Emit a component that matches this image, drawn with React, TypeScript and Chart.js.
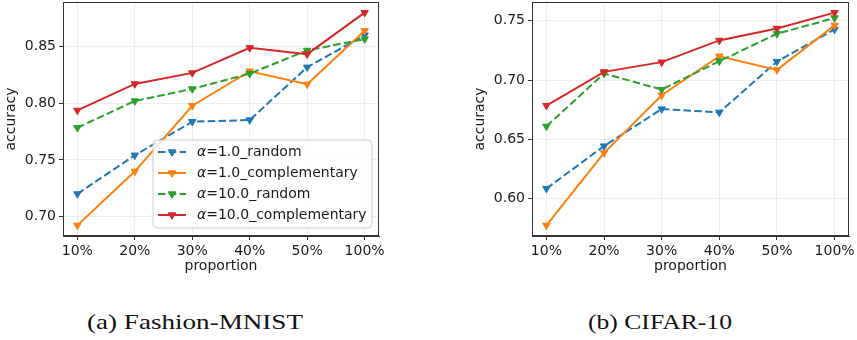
import React, { useEffect, useRef } from 'react';
import { Chart, registerables } from 'chart.js';

Chart.register(...registerables);

// ---------------- data ----------------
const categories = ['10%', '20%', '30%', '40%', '50%', '100%'];
const seriesNames = ['1.0_random', '1.0_complementary', '10.0_random', '10.0_complementary'];
const seriesColors = ['#1f77b4', '#ff7f0e', '#2ca02c', '#d62728'];
const seriesDashed = [true, false, true, false];

// (a) Fashion-MNIST
const fashionA1Random = [0.7201, 0.7542, 0.7837, 0.7852, 0.8317, 0.8600];
const fashionA1Compl = [0.6924, 0.7400, 0.7978, 0.8282, 0.8167, 0.8638];
const fashionA10Random = [0.7784, 0.8020, 0.8126, 0.8261, 0.8465, 0.8565];
const fashionA10Compl = [0.7937, 0.8170, 0.8267, 0.8488, 0.8432, 0.8798];
const fashionYTicks = [0.70, 0.75, 0.80, 0.85];

// (b) CIFAR-10
const cifarA1Random = [0.6086, 0.6444, 0.6756, 0.6728, 0.7156, 0.7427];
const cifarA1Compl = [0.5776, 0.6387, 0.6872, 0.7201, 0.7086, 0.7461];
const cifarA10Random = [0.6610, 0.7055, 0.6920, 0.7159, 0.7390, 0.7523];
const cifarA10Compl = [0.6785, 0.7069, 0.7151, 0.7334, 0.7435, 0.7568];
const cifarYTicks = [0.60, 0.65, 0.70, 0.75];

const captionA = '(a) Fashion-MNIST';
const captionB = '(b) CIFAR-10';
const xTitle = 'proportion';
const yTitle = 'accuracy';

// matplotlib-like 5% margins
function paddedRange(series: number[][]) {
  const all = series.flat();
  const lo = Math.min(...all);
  const hi = Math.max(...all);
  const m = (hi - lo) * 0.05;
  return [lo - m, hi + m];
}

const TEXT = '#1a1a1a';
const SPINE = '#333333';
const GRID = '#ececec';
const FONT = 'DejaVu Sans';

function triangleDown(ctx: CanvasRenderingContext2D, cx: number, cy: number, r: number) {
  const s = Math.sin(Math.PI / 3) * r;
  const c = Math.cos(Math.PI / 3) * r;
  ctx.beginPath();
  ctx.moveTo(cx, cy + r);
  ctx.lineTo(cx - s, cy - c);
  ctx.lineTo(cx + s, cy - c);
  ctx.closePath();
}

const framePlugin = {
  id: 'frameAndLegend',
  afterDatasetsDraw(chart: any, _args: any, opts: any) {
    const ctx: CanvasRenderingContext2D = chart.ctx;
    const { left, right, top, bottom } = chart.chartArea;
    ctx.save();
    ctx.strokeStyle = SPINE;
    ctx.lineWidth = 1;
    ctx.strokeRect(Math.round(left) + 0.5, Math.round(top) + 0.5, Math.round(right - left) - 1, Math.round(bottom - top) - 1);
    ctx.restore();

    if (!opts || !opts.showLegend) return;
    const w = 219;
    const h = 88;
    const x0 = right - 7 - w;
    const y0 = bottom - 8 - h;
    ctx.save();
    ctx.beginPath();
    const r = 4;
    ctx.moveTo(x0 + r, y0);
    ctx.arcTo(x0 + w, y0, x0 + w, y0 + h, r);
    ctx.arcTo(x0 + w, y0 + h, x0, y0 + h, r);
    ctx.arcTo(x0, y0 + h, x0, y0, r);
    ctx.arcTo(x0, y0, x0 + w, y0, r);
    ctx.closePath();
    ctx.fillStyle = 'rgba(255,255,255,0.8)';
    ctx.fill();
    ctx.strokeStyle = '#cccccc';
    ctx.lineWidth = 1;
    ctx.stroke();

    chart.data.datasets.forEach((ds: any, i: number) => {
      const yy = y0 + 12 + i * 21;
      ctx.beginPath();
      ctx.setLineDash(ds.borderDash || []);
      ctx.strokeStyle = ds.borderColor;
      ctx.lineWidth = ds.borderWidth;
      ctx.moveTo(x0 + 5, yy);
      ctx.lineTo(x0 + 33, yy);
      ctx.stroke();
      ctx.setLineDash([]);
      triangleDown(ctx, x0 + 19, yy, 4.3);
      ctx.fillStyle = ds.borderColor;
      ctx.fill();
      ctx.lineWidth = 1;
      ctx.stroke();

      ctx.fillStyle = TEXT;
      ctx.textBaseline = 'middle';
      ctx.textAlign = 'left';
      ctx.font = `italic 14px "${FONT}"`;
      const tx = x0 + 44;
      ctx.fillText('α', tx, yy);
      const aw = ctx.measureText('α').width;
      ctx.font = `14px "${FONT}"`;
      ctx.fillText('=' + ds.label, tx + aw, yy);
    });
    ctx.restore();
  },
};

interface PanelProps {
  series: number[][];
  yTicks: number[];
  showLegend: boolean;
  left: number;
  width: number;
  padLeft: number;
  padRight: number;
}

function zeroPad(axis: any) {
  axis.paddingTop = 0;
  axis.paddingBottom = 0;
  axis.paddingLeft = 0;
  axis.paddingRight = 0;
}

function Panel({ series, yTicks, showLegend, left, width, padLeft, padRight }: PanelProps) {
  const ref = useRef<HTMLCanvasElement | null>(null);
  const height = 280;

  useEffect(() => {
    if (!ref.current) return;
    const [yMin, yMax] = paddedRange(series);
    const datasets = series.map((vals, i) => ({
      label: seriesNames[i],
      data: vals.map((v, j) => ({ x: j, y: v })),
      borderColor: seriesColors[i],
      backgroundColor: seriesColors[i],
      pointBackgroundColor: seriesColors[i],
      pointBorderColor: seriesColors[i],
      borderWidth: 2,
      borderDash: seriesDashed[i] ? [7.5, 3.3] : [],
      pointStyle: 'triangle',
      pointRotation: 180,
      pointRadius: 4.3,
      pointBorderWidth: 1,
      fill: false,
      tension: 0,
      order: series.length - i,
    }));

    const chart = new Chart(ref.current, {
      type: 'line',
      data: { datasets },
      plugins: [framePlugin],
      options: {
        animation: false,
        responsive: false,
        devicePixelRatio: 1,
        layout: { autoPadding: false, padding: { left: padLeft, right: padRight, top: 2, bottom: 0 } },
        plugins: {
          legend: { display: false },
          tooltip: { enabled: false },
          frameAndLegend: { showLegend },
        } as any,
        scales: {
          x: {
            type: 'linear',
            min: -0.25,
            max: categories.length - 1 + 0.25,
            afterBuildTicks: (axis: any) => {
              axis.ticks = categories.map((_, i) => ({ value: i }));
            },
            afterFit: (axis: any) => {
              axis.height = 44;
              zeroPad(axis);
            },
            ticks: {
              autoSkip: false,
              maxRotation: 0,
              padding: 3,
              color: TEXT,
              font: { family: FONT, size: 14 },
              callback: (v: any) => categories[Math.round(Number(v))] ?? '',
            },
            grid: { color: GRID, lineWidth: 1, tickLength: 4, tickColor: SPINE, tickWidth: 1 },
            border: { display: true, color: SPINE, width: 1 },
            title: {
              display: true,
              text: xTitle,
              color: TEXT,
              font: { family: FONT, size: 14 },
              padding: { top: 0, bottom: 5 },
            },
          },
          y: {
            type: 'linear',
            min: yMin,
            max: yMax,
            afterBuildTicks: (axis: any) => {
              axis.ticks = yTicks.map((v) => ({ value: v }));
            },
            afterFit: (axis: any) => {
              axis.width = 63;
              zeroPad(axis);
            },
            ticks: {
              padding: 3,
              color: TEXT,
              font: { family: FONT, size: 14 },
              callback: (v: any) => Number(v).toFixed(2),
            },
            grid: { color: GRID, lineWidth: 1, tickLength: 4, tickColor: SPINE, tickWidth: 1 },
            border: { display: true, color: SPINE, width: 1 },
            title: {
              display: true,
              text: yTitle,
              color: TEXT,
              font: { family: FONT, size: 14 },
              padding: { top: 3, bottom: 0 },
            },
          },
        },
      } as any,
    });
    return () => chart.destroy();
  }, []);

  return (
    <canvas
      ref={ref}
      width={width}
      height={height}
      style={{ position: 'absolute', left, top: 0, width, height }}
    />
  );
}

function Caption({ text, center, scale }: { text: string; center: number; scale: number }) {
  return (
    <div
      style={{
        position: 'absolute',
        left: center - 150,
        width: 300,
        top: 310,
        textAlign: 'center',
        fontFamily: '"Liberation Serif", serif',
        fontSize: 21,
        lineHeight: '24px',
        color: '#111',
        whiteSpace: 'pre',
        transform: `scaleX(${scale})`,
      }}
    >
      {text}
    </div>
  );
}

export default function App() {
  useEffect(() => {
    document.body.style.margin = '0';
  }, []);
  return (
    <div style={{ position: 'absolute', left: 0, top: 0, width: 857, height: 340, background: '#fff', overflow: 'hidden' }}>
      <Panel
        series={[fashionA1Random, fashionA1Compl, fashionA10Random, fashionA10Compl]}
        yTicks={fashionYTicks}
        showLegend={true}
        left={0}
        width={400}
        padLeft={0}
        padRight={21}
      />
      <Panel
        series={[cifarA1Random, cifarA1Compl, cifarA10Random, cifarA10Compl]}
        yTicks={cifarYTicks}
        showLegend={false}
        left={441}
        width={416}
        padLeft={28}
        padRight={8}
      />
      <Caption text={captionA} center={194.5} scale={1.29} />
      <Caption text={captionB} center={660} scale={1.22} />
    </div>
  );
}
